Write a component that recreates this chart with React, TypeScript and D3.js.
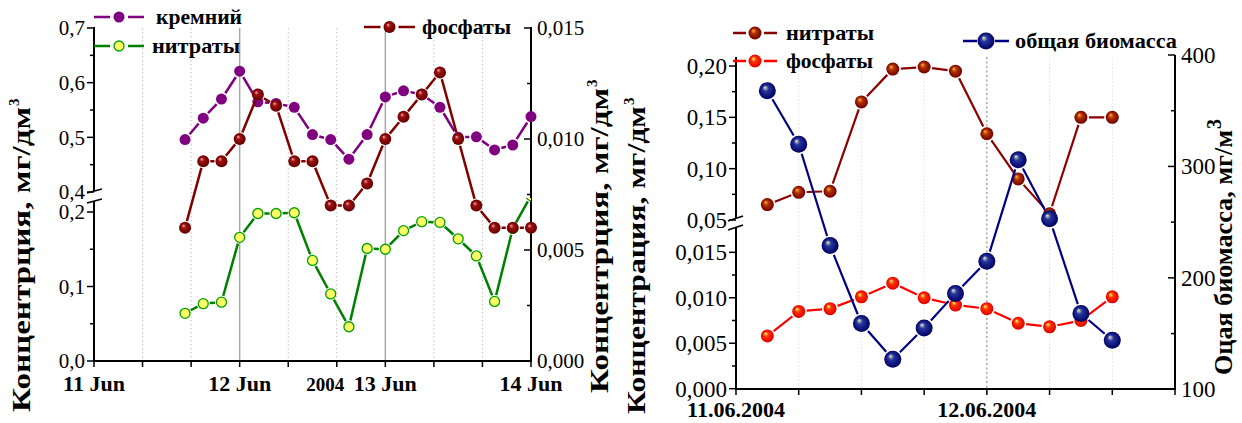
import React from 'react';
import * as d3 from 'd3';

// left chart: hours from 11 Jun 00:00, every 3 h
const hoursLeft = [15, 18, 21, 24, 27, 30, 33, 36, 39, 42, 45, 48, 51, 54, 57, 60, 63, 66, 69, 72];
const silicon = [0.496, 0.535, 0.570, 0.621, 0.565, 0.562, 0.555, 0.505, 0.496, 0.460, 0.505, 0.574, 0.585, 0.579, 0.555, 0.500, 0.501, 0.477, 0.486, 0.538];
const nitratesLeft = [0.064, 0.077, 0.079, 0.166, 0.198, 0.198, 0.199, 0.135, 0.090, 0.046, 0.151, 0.150, 0.175, 0.187, 0.186, 0.164, 0.141, 0.080, 0.178, 0.222];
const phosphatesLeft = [0.0060, 0.0090, 0.0090, 0.0100, 0.0120, 0.0115, 0.0090, 0.0090, 0.0070, 0.0070, 0.0080, 0.0100, 0.0110, 0.0120, 0.0130, 0.0100, 0.0070, 0.0060, 0.0060, 0.0060];
const dayTicksLeft = [0, 24, 48, 72];
const dayLabelsLeft = ['11 Jun', '12 Jun', '13 Jun', '14 Jun'];

// right chart: hours from 11.06.2004 00:00
const hoursRight = [3, 6, 9, 12, 15, 18, 21, 24, 27, 30, 33, 36];
const nitratesRight = [0.065, 0.077, 0.078, 0.165, 0.197, 0.199, 0.195, 0.134, 0.090, 0.056, 0.150, 0.150];
const phosphatesRight = [0.0058, 0.0085, 0.0088, 0.0101, 0.0116, 0.0100, 0.0092, 0.0088, 0.0072, 0.0068, 0.0075, 0.0101];
const biomass = [368, 320, 229, 159, 127, 155, 186, 215, 306, 253, 168, 144];
const dayTicksRight = [0, 24];
const dayLabelsRight = ['11.06.2004', '12.06.2004'];

const FONT = '"Liberation Serif", "Times New Roman", serif';
const comma = (f: string) => (v: number) => d3.format(f)(v).replace('.', ',');

type Pt = [number, number];

// Origin-like lines: segments stop short of the symbols
function gapped(pts: Pt[], gap: number) {
  let d = '';
  for (let i = 0; i < pts.length - 1; i++) {
    const [x1, y1] = pts[i];
    const [x2, y2] = pts[i + 1];
    const len = Math.hypot(x2 - x1, y2 - y1);
    if (len <= gap * 2) continue;
    const ux = (x2 - x1) / len, uy = (y2 - y1) / len;
    d += `M${x1 + ux * gap},${y1 + uy * gap}L${x2 - ux * gap},${y2 - uy * gap}`;
  }
  return d;
}

function YTicks({ scale, major, minor, x, side, fmt, fontSize }: any) {
  const dir = side === 'left' ? -1 : 1;
  const inward = side === 'rightIn' ? -1 : dir;
  return (
    <g>
      {major.map((v: number) => (
        <g key={'M' + v}>
          <line x1={x} x2={x + inward * 7} y1={scale(v)} y2={scale(v)} stroke="#000" strokeWidth={1.5} />
          <text x={side === 'left' ? x - 9 : x + 6} y={scale(v)} dy="0.35em" fontSize={fontSize}
            textAnchor={side === 'left' ? 'end' : 'start'} fontFamily={FONT}>{fmt(v)}</text>
        </g>
      ))}
      {minor.map((v: number) => (
        <line key={'m' + v} x1={x} x2={x + inward * 4} y1={scale(v)} y2={scale(v)} stroke="#000" strokeWidth={1.5} />
      ))}
    </g>
  );
}

// rotated axis title; (x, y) = baseline x and bottom end of the text
function VTitle({ x, y, length, text, fontSize, supSize }: any) {
  return (
    <g transform={`translate(${x},${y}) rotate(-90)`} fontFamily={FONT} fontWeight="bold">
      <text x={0} y={0} fontSize={fontSize} textLength={length} lengthAdjust="spacingAndGlyphs">{text}</text>
      <text x={length + 1} y={-fontSize * 0.42} fontSize={supSize}>3</text>
    </g>
  );
}

function Ball({ x, y, r, grad }: { x: number; y: number; r: number; grad: string }) {
  return <circle cx={x} cy={y} r={r} fill={`url(#${grad})`} />;
}

function LegendItem({ x, y, color, text, marker, width = 50, gap = 12, fontSize = 21, textWidth }: any) {
  const mx = x + width / 2;
  return (
    <g>
      <path d={`M${x},${y}L${mx - 9},${y}M${mx + 9},${y}L${x + width},${y}`} stroke={color} strokeWidth={2.5} />
      {marker(mx, y)}
      <text x={x + width + gap} y={y} dy="0.33em" fontSize={fontSize} fontWeight="bold" fontFamily={FONT}
        textLength={textWidth} lengthAdjust="spacingAndGlyphs">{text}</text>
    </g>
  );
}

export default function App() {
  // ---------- left chart ----------
  const xL = d3.scaleLinear().domain([0, 72]).range([94, 531]);
  const ySi = d3.scaleLinear().domain([0.4, 0.7]).range([192, 28]);
  const yNL = d3.scaleLinear().domain([0, 0.2]).range([361, 212]);
  const yPL = d3.scaleLinear().domain([0, 0.015]).range([361, 28]);

  const siPts: Pt[] = hoursLeft.map((h, i) => [xL(h), ySi(silicon[i])]);
  const nPts: Pt[] = hoursLeft.map((h, i) => [xL(h), yNL(nitratesLeft[i])]);
  const pPts: Pt[] = hoursLeft.map((h, i) => [xL(h), yPL(phosphatesLeft[i])]);

  // ---------- right chart ----------
  const xR = d3.scaleLinear().domain([0, 42]).range([736, 1175]);
  const yNR = d3.scaleLinear().domain([0.05, 0.2]).range([220, 66]);
  const yPR = d3.scaleLinear().domain([0, 0.015]).range([388.7, 252.3]);
  const yB = d3.scaleLinear().domain([100, 400]).range([389.3, 55]);

  const nrPts: Pt[] = hoursRight.map((h, i) => [xR(h), yNR(nitratesRight[i])]);
  const prPts: Pt[] = hoursRight.map((h, i) => [xR(h), yPR(phosphatesRight[i])]);
  const bPts: Pt[] = hoursRight.map((h, i) => [xR(h), yB(biomass[i])]);

  const gridL = d3.range(8, 72, 8).filter(h => h % 24 !== 0);
  const gridR = d3.range(6, 42, 6).filter(h => h % 24 !== 0);

  return (
    <svg width={1242} height={423} style={{ position: 'absolute', left: 0, top: 0, background: '#fff' }}>
      <defs>
        <radialGradient id="gMaroon" cx="0.5" cy="0.5" r="0.5" fx="0.35" fy="0.3">
          <stop offset="0%" stopColor="#f0b0b0" />
          <stop offset="35%" stopColor="#a01010" />
          <stop offset="100%" stopColor="#600000" />
        </radialGradient>
        <radialGradient id="gNitr" cx="0.5" cy="0.5" r="0.5" fx="0.35" fy="0.3">
          <stop offset="0%" stopColor="#ffb040" />
          <stop offset="40%" stopColor="#b03000" />
          <stop offset="100%" stopColor="#700000" />
        </radialGradient>
        <radialGradient id="gRed" cx="0.5" cy="0.5" r="0.5" fx="0.35" fy="0.3">
          <stop offset="0%" stopColor="#ffff70" />
          <stop offset="40%" stopColor="#ff3000" />
          <stop offset="100%" stopColor="#e00000" />
        </radialGradient>
        <radialGradient id="gNavy" cx="0.5" cy="0.5" r="0.5" fx="0.35" fy="0.3">
          <stop offset="0%" stopColor="#f4f0b0" />
          <stop offset="35%" stopColor="#2535a0" />
          <stop offset="100%" stopColor="#000060" />
        </radialGradient>
        <clipPath id="clipLow">
          <rect x={94} y={198} width={437} height={175} />
        </clipPath>
      </defs>

      {/* ===== LEFT CHART ===== */}
      {gridL.map(h => (
        <line key={h} x1={xL(h)} x2={xL(h)} y1={28} y2={361} stroke="#c0c0c0" strokeDasharray="1.5,2.5" />
      ))}
      {[24, 48].map(h => (
        <line key={h} x1={xL(h)} x2={xL(h)} y1={28} y2={361} stroke="#a8a8a8" strokeWidth={1.5} />
      ))}

      {/* left axis with break */}
      <line x1={94} x2={94} y1={27} y2={191} stroke="#000" strokeWidth={2} />
      <line x1={94} x2={94} y1={201} y2={362} stroke="#000" strokeWidth={2} />
      <line x1={87} x2={102} y1={193} y2={189} stroke="#000" strokeWidth={1.5} />
      <line x1={87} x2={102} y1={203} y2={199} stroke="#000" strokeWidth={1.5} />
      <YTicks scale={ySi} major={[0.4, 0.5, 0.6, 0.7]} minor={[0.45, 0.55, 0.65]} x={94} side="left" fmt={comma('.1f')} fontSize={21} />
      <YTicks scale={yNL} major={[0, 0.1, 0.2]} minor={[0.05, 0.15]} x={94} side="left" fmt={comma('.1f')} fontSize={21} />

      {/* right axis */}
      <line x1={531} x2={531} y1={27} y2={362} stroke="#000" strokeWidth={2} />
      <YTicks scale={yPL} major={[0, 0.005, 0.01, 0.015]} minor={[0.0025, 0.0075, 0.0125]} x={531} side="rightIn" fmt={comma('.3f')} fontSize={21} />

      {/* x axis */}
      <line x1={93} x2={532} y1={361} y2={361} stroke="#000" strokeWidth={2} />
      {d3.range(0, 73, 8).map(h => (
        <line key={h} x1={xL(h)} x2={xL(h)} y1={361} y2={367} stroke="#000" strokeWidth={1.5} />
      ))}
      {dayTicksLeft.map((h, i) => (
        <text key={h} x={xL(h)} y={391} textAnchor="middle" fontSize={22} fontWeight="bold" fontFamily={FONT}>{dayLabelsLeft[i]}</text>
      ))}
      <text x={xL(48) - 41} y={391} textAnchor="end" fontSize={19} fontWeight="bold" fontFamily={FONT}>2004</text>

      {/* axis titles */}
      <VTitle x={30} y={412} length={305} text="Концентрция, мг/дм" fontSize={26} supSize={15} />
      <VTitle x={608} y={393} length={305} text="Концентрция, мг/дм" fontSize={26} supSize={15} />

      {/* series */}
      <path d={gapped(siPts, 7)} stroke="#800080" strokeWidth={2.5} fill="none" />
      {siPts.map(([x, y], i) => <circle key={i} cx={x} cy={y} r={5.5} fill="#800080" />)}

      <g clipPath="url(#clipLow)">
        <path d={gapped(nPts, 6.5)} stroke="#008000" strokeWidth={2.5} fill="none" />
        {nPts.map(([x, y], i) => <circle key={i} cx={x} cy={y} r={5} fill="#ffff66" stroke="#00a000" strokeWidth={1.3} />)}
      </g>

      <path d={gapped(pPts, 7)} stroke="#800000" strokeWidth={2.5} fill="none" />
      {pPts.map(([x, y], i) => <Ball key={i} x={x} y={y} r={6} grad="gMaroon" />)}

      {/* legend */}
      <LegendItem x={94} y={17} color="#800080" text="кремний" width={50} textWidth={86}
        marker={(x: number, y: number) => <circle cx={x} cy={y} r={5.5} fill="#800080" />} />
      <LegendItem x={94} y={46} color="#008000" text="нитраты" width={50} gap={8} textWidth={88}
        marker={(x: number, y: number) => <circle cx={x} cy={y} r={5} fill="#ffff66" stroke="#00a000" strokeWidth={1.3} />} />
      <LegendItem x={364} y={27} color="#800000" text="фосфаты" width={51} gap={7} textWidth={89}
        marker={(x: number, y: number) => <Ball x={x} y={y} r={6} grad="gMaroon" />} />

      {/* ===== RIGHT CHART ===== */}
      {gridR.map(h => (
        <line key={h} x1={xR(h)} x2={xR(h)} y1={57} y2={389} stroke="#e0e0e0" strokeDasharray="1.5,2" />
      ))}
      {dayTicksRight.filter(h => h > 0).map(h => (
        <line key={h} x1={xR(h)} x2={xR(h)} y1={57} y2={389} stroke="#909090" strokeDasharray="2,2.5" strokeWidth={1.2} />
      ))}

      {/* left axis with break */}
      <line x1={736} x2={736} y1={57} y2={218} stroke="#000" strokeWidth={2} />
      <line x1={736} x2={736} y1={228} y2={390} stroke="#000" strokeWidth={2} />
      <line x1={728} x2={743} y1={221} y2={216} stroke="#000" strokeWidth={1.5} />
      <line x1={728} x2={743} y1={230} y2={225} stroke="#000" strokeWidth={1.5} />
      <YTicks scale={yNR} major={[0.05, 0.1, 0.15, 0.2]} minor={[0.075, 0.125, 0.175]} x={736} side="left" fmt={comma('.2f')} fontSize={23} />
      <YTicks scale={yPR} major={[0, 0.005, 0.01, 0.015]} minor={[0.0025, 0.0075, 0.0125]} x={736} side="left" fmt={comma('.3f')} fontSize={23} />

      {/* right axis */}
      <line x1={1175} x2={1175} y1={55} y2={390} stroke="#000" strokeWidth={2} />
      <YTicks scale={yB} major={[100, 200, 300, 400]} minor={[150, 250, 350]} x={1175} side="rightIn" fmt={d3.format('d')} fontSize={23} />

      {/* x axis */}
      <line x1={735} x2={1176} y1={389} y2={389} stroke="#000" strokeWidth={2} />
      {d3.range(0, 43, 6).map(h => (
        <line key={h} x1={xR(h)} x2={xR(h)} y1={389} y2={395} stroke="#000" strokeWidth={1.5} />
      ))}
      {dayTicksRight.map((h, i) => (
        <text key={h} x={xR(h)} y={417} textAnchor="middle" fontSize={22} fontWeight="bold" fontFamily={FONT}>{dayLabelsRight[i]}</text>
      ))}

      {/* axis titles */}
      <VTitle x={645} y={414} length={308} text="Концентрация, мг/дм" fontSize={26} supSize={15} />
      <VTitle x={1232} y={375} length={245} text="Оцая биомасса, мг/м" fontSize={26} supSize={20} />

      {/* series */}
      <path d={gapped(nrPts, 8)} stroke="#8b0000" strokeWidth={2.2} fill="none" />
      {nrPts.map(([x, y], i) => <Ball key={i} x={x} y={y} r={6.5} grad="gNitr" />)}

      <path d={gapped(prPts, 8)} stroke="#ff0000" strokeWidth={2.2} fill="none" />
      {prPts.map(([x, y], i) => <Ball key={i} x={x} y={y} r={6.5} grad="gRed" />)}

      <path d={gapped(bPts, 10)} stroke="#000080" strokeWidth={2.2} fill="none" />
      {bPts.map(([x, y], i) => <Ball key={i} x={x} y={y} r={8.5} grad="gNavy" />)}

      {/* legend */}
      <LegendItem x={733} y={33} color="#8b0000" text="нитраты" width={44} gap={9} textWidth={88}
        marker={(x: number, y: number) => <Ball x={x} y={y} r={6.5} grad="gNitr" />} />
      <LegendItem x={733} y={61} color="#ff0000" text="фосфаты" width={44} gap={9} textWidth={87}
        marker={(x: number, y: number) => <Ball x={x} y={y} r={6.5} grad="gRed" />} />
      <LegendItem x={963} y={41} color="#000080" text="общая биомасса" width={46} gap={6} textWidth={162}
        marker={(x: number, y: number) => <Ball x={x} y={y} r={8.5} grad="gNavy" />} />
    </svg>
  );
}
